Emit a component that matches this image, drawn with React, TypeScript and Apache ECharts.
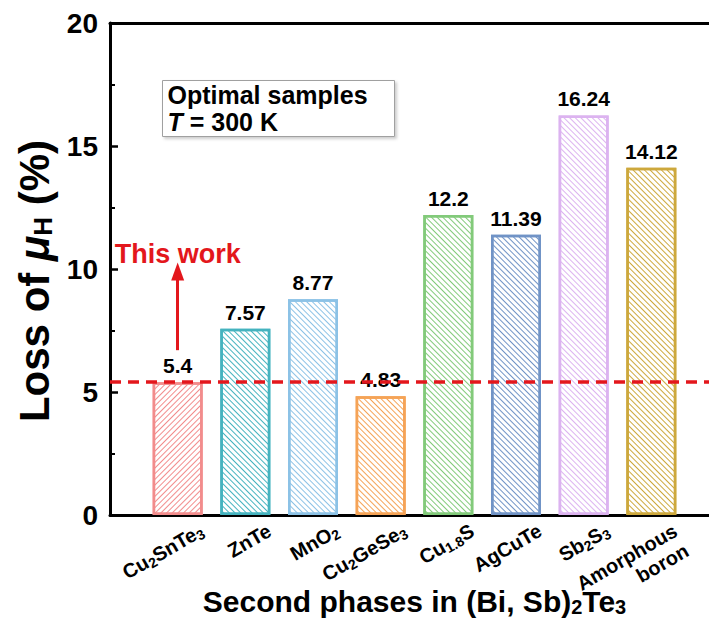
import React, { useEffect, useRef } from "react";
import * as echarts from "echarts";

// Second phases added to (Bi, Sb)2Te3 and the Hall-mobility loss each one causes
const phases = [
  "Cu{s|2}SnTe{s|3}",
  "ZnTe",
  "MnO{s|2}",
  "Cu{s|2}GeSe{s|3}",
  "Cu{s|1.8}S",
  "AgCuTe",
  "Sb{s|2}S{s|3}",
  "Amorphous\nboron",
];
const lossValues = [5.4, 7.57, 8.77, 4.83, 12.2, 11.39, 16.24, 14.12];
const barColors = [
  "#F28C8C",
  "#45B3BF",
  "#8CC2E6",
  "#F5A356",
  "#82CA7A",
  "#7093C6",
  "#DCB3F0",
  "#CDA83C",
];
// hatch direction per bar: -1 = "/", 1 = "\"
const hatchDirs = [-1, 1, 1, 1, 1, 1, 1, 1];

const yTicks = [0, 5, 10, 15, 20];
const thisWorkValue = lossValues[0];
const arrowFrom = 6.7;
const arrowTo = 9.9;

const FONT = "'Liberation Sans', Arial, 'DejaVu Sans', sans-serif";
const RED = "#E3171C";

const LABEL_ROT = Math.PI / 6;
const LABEL_LINE = 23;

export default function App() {
  const ref = useRef<HTMLDivElement>(null);

  useEffect(() => {
    document.body.style.margin = "0";
    if (!ref.current) return;
    const chart = echarts.init(ref.current, null, { renderer: "svg" });

    const xMax = phases.length + 1;

    const option: any = {
      animation: false,
      backgroundColor: "#fff",
      textStyle: { fontFamily: FONT },
      grid: {
        left: 110,
        top: 23,
        right: -10,
        bottom: 112,
        outerBoundsMode: "none",
        containLabel: false,
      },
      xAxis: [
        {
          type: "value",
          min: 0,
          max: xMax,
          interval: 1,
          position: "bottom",
          axisLine: { show: true, lineStyle: { color: "#000", width: 3 } },
          axisTick: { show: false },
          splitLine: { show: false },
          axisLabel: { show: false },
          name: "Second phases in (Bi, Sb){s|2}Te{s|3}",
          nameLocation: "middle",
          nameGap: 71,
          nameMoveOverlap: false,
          nameTextStyle: {
            color: "#000",
            fontFamily: FONT,
            fontWeight: "bold",
            fontSize: 30,
            lineHeight: 31,
            rich: {
              s: {
                fontFamily: FONT,
                fontWeight: "bold",
                fontSize: 20,
                lineHeight: 8,
                verticalAlign: "bottom",
                color: "#000",
              },
            },
          },
        },
        {
          // frame line along the top
          type: "value",
          min: 0,
          max: xMax,
          position: "top",
          axisLine: { show: true, lineStyle: { color: "#000", width: 3 } },
          axisTick: { show: false },
          axisLabel: { show: false },
          splitLine: { show: false },
        },
      ],
      yAxis: {
        type: "value",
        min: yTicks[0],
        max: yTicks[yTicks.length - 1],
        interval: yTicks[1] - yTicks[0],
        axisLine: { show: true, lineStyle: { color: "#000", width: 3 } },
        axisTick: {
          show: true,
          inside: true,
          length: 8,
          lineStyle: { color: "#000", width: 2.5 },
        },
        minorTick: {
          show: true,
          splitNumber: 2,
          length: 5,
          lineStyle: { color: "#000", width: 2 },
        },
        splitLine: { show: false },
        axisLabel: {
          color: "#000",
          fontFamily: FONT,
          fontWeight: "bold",
          fontSize: 28,
          margin: 12,
        },
        name: "Loss of {i|μ}{s|H} (%)",
        nameLocation: "middle",
        nameGap: 54,
        nameMoveOverlap: false,
        nameTextStyle: {
          color: "#000",
          fontFamily: FONT,
          fontWeight: "bold",
          fontSize: 42,
          lineHeight: 44,
          padding: [0, 24, 0, 0],
          rich: {
            i: {
              fontFamily: FONT,
              fontWeight: "bold",
              fontStyle: "italic",
              fontSize: 42,
              lineHeight: 44,
              color: "#000",
            },
            s: {
              fontFamily: FONT,
              fontWeight: "bold",
              fontSize: 26,
              lineHeight: 14,
              verticalAlign: "bottom",
              color: "#000",
            },
          },
        },
      },
      series: [
        {
          type: "bar",
          xAxisIndex: 0,
          yAxisIndex: 0,
          barWidth: 50,
          data: lossValues.map((v, i) => ({
            value: [i + 1, v],
            itemStyle: {
              color: "#fff",
              borderColor: barColors[i],
              borderWidth: 2.5,
              decal: {
                symbol: "rect",
                symbolSize: 1,
                dashArrayX: [1, 0],
                dashArrayY: [1, 3],
                rotation: (hatchDirs[i] * Math.PI) / 4,
                color: barColors[i],
              },
            },
          })),
          label: {
            show: true,
            position: "top",
            distance: 6,
            color: "#000",
            fontFamily: FONT,
            fontWeight: "bold",
            fontSize: 21,
            formatter: (p: any) => String(p.value[1]),
          },
          markLine: {
            silent: true,
            symbol: ["none", "none"],
            data: [
              {
                yAxis: thisWorkValue,
                lineStyle: { color: RED, width: 3.5, type: [11, 7] },
                label: { show: false },
              },
              [
                {
                  coord: [1, arrowFrom],
                  symbol: "none",
                  lineStyle: { color: RED, width: 3, type: "solid" },
                  label: {
                    show: true,
                    position: "end",
                    distance: 4,
                    formatter: "This work",
                    color: RED,
                    fontFamily: FONT,
                    fontWeight: "bold",
                    fontSize: 27,
                  },
                },
                {
                  coord: [1, arrowTo],
                  symbol: "triangle",
                  symbolSize: [13, 18],
                },
              ],
            ],
          },
        },
      ],
    };

    chart.setOption(option);

    // rotated category labels, anchored at each bar's position on the x axis
    const labelEls: any[] = [];
    phases.forEach((name, i) => {
      const pt = chart.convertToPixel({ gridIndex: 0 }, [i + 1, 0]) as number[];
      if (!pt) return;
      const lines = name.split("\n").length;
      const shift = ((lines - 1) * LABEL_LINE) / 2;
      labelEls.push({
        type: "text",
        x: pt[0] + 24 + shift * Math.sin(LABEL_ROT),
        y: pt[1] + 14 + shift * Math.cos(LABEL_ROT),
        rotation: LABEL_ROT,
        silent: true,
        style: {
          text: name,
          fill: "#000",
          font: `bold 20px ${FONT}`,
          lineHeight: LABEL_LINE,
          align: "right",
          textAlign: "right",
          verticalAlign: "middle",
          textVerticalAlign: "middle",
          rich: {
            s: {
              fontFamily: FONT,
              fontWeight: "bold",
              fontSize: 14,
              lineHeight: 12,
              verticalAlign: "bottom",
              fill: "#000",
            },
          },
        },
      });
    });

    chart.setOption({
      graphic: [
        {
          type: "group",
          left: 162,
          top: 80,
          children: [
            {
              type: "rect",
              shape: { x: 0, y: 0, width: 232, height: 56 },
              style: {
                fill: "#fff",
                stroke: "#a0a0a0",
                lineWidth: 1,
                shadowBlur: 3,
                shadowOffsetX: 2,
                shadowOffsetY: 2,
                shadowColor: "rgba(0,0,0,0.2)",
              },
            },
            {
              type: "text",
              x: 5,
              y: 2,
              style: {
                text: "Optimal samples",
                fill: "#000",
                font: `bold 25px ${FONT}`,
              },
            },
            {
              type: "text",
              x: 5,
              y: 29,
              style: {
                text: "{i|T} = 300 K",
                fill: "#000",
                font: `bold 25px ${FONT}`,
                rich: {
                  i: {
                    fontFamily: FONT,
                    fontWeight: "bold",
                    fontStyle: "italic",
                    fontSize: 25,
                    fill: "#000",
                  },
                },
              },
            },
          ],
        },
        ...labelEls,
      ],
    });

    return () => chart.dispose();
  }, []);

  return <div ref={ref} style={{ width: 709, height: 627 }} />;
}
